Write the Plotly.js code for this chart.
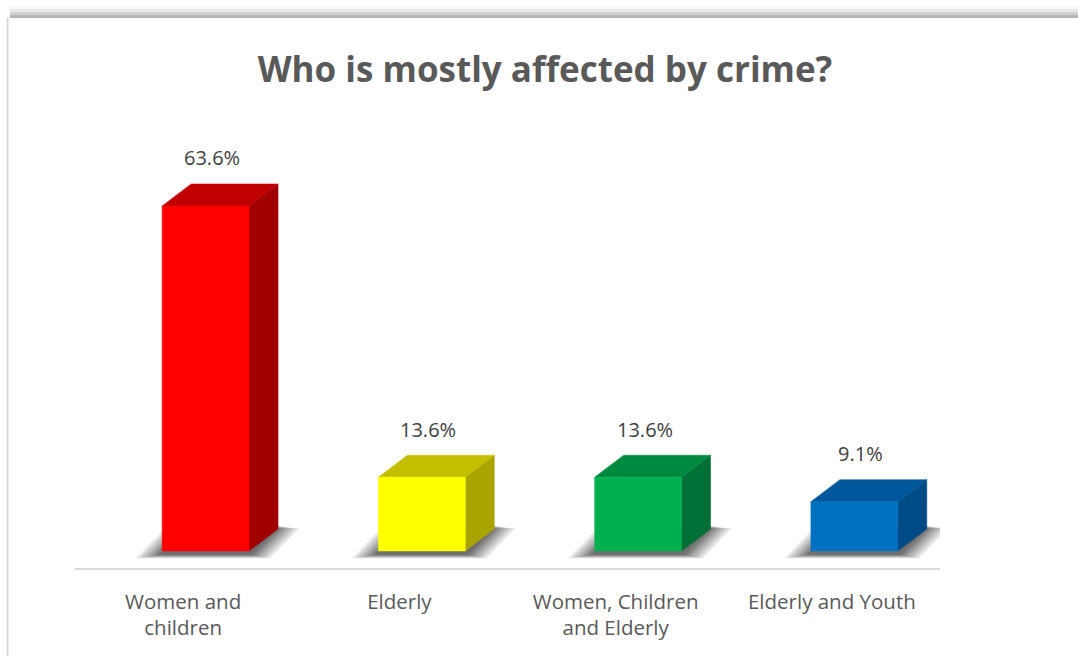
<!DOCTYPE html>
<html>
<head>
<meta charset="utf-8">
<script src="https://cdn.plot.ly/plotly-3.0.1.min.js"></script>
<style>html,body{margin:0;padding:0;background:#fff;}#chart{width:1078px;height:656px;}</style>
</head>
<body>
<div id="chart"></div>
<script>
// ---- data ----
const categories = ["Women and<br>children", "Elderly", "Women, Children<br>and Elderly", "Elderly and Youth"];
const values = [63.6, 13.6, 13.6, 9.1];
const valueLabels = ["63.6%", "13.6%", "13.6%", "9.1%"];
const frontColors = ["#FF0000", "#FFFF00", "#00B050", "#0070C0"];
const topColors = ["#C00000", "#C4BE00", "#008A3F", "#00579B"];
const sideColors = ["#A00000", "#A8A400", "#007036", "#004B85"];

// ---- 3D geometry (in axis units) ----
const faceLeft = -0.097, faceRight = 0.305;  // front face relative to category center
const depthX = 0.134, depthY = 4.06;         // oblique depth offset

const traces = [];
const idx = categories.map((_, i) => i);

// shadows (layered for a soft look)
const shadowSteps = [0.12, 0.1, 0.08, 0.06, 0.045, 0.03, 0.015];
idx.forEach(i => {
  shadowSteps.forEach(e => {
    const L = i + faceLeft - e, R = i + faceRight + e * 0.8;
    const y0 = -0.6 - e * 6, y1 = depthY + 0.6 - e * 4;
    traces.push({
      x: [L, R, R + depthX, L + depthX, L],
      y: [y0, y0, y1, y1, y0],
      type: "scatter", mode: "lines", fill: "toself",
      fillcolor: "rgba(0,0,0,0.11)", line: {width: 0}, hoverinfo: "skip", showlegend: false
    });
  });
});

// box faces
idx.forEach(i => {
  const v = values[i];
  const L = i + faceLeft, R = i + faceRight;
  // side face
  traces.push({
    x: [R, R + depthX, R + depthX, R, R],
    y: [0, depthY, v + depthY, v, 0],
    type: "scatter", mode: "lines", fill: "toself",
    fillcolor: sideColors[i], line: {width: 0.5, color: sideColors[i]}, hoverinfo: "skip", showlegend: false
  });
  // top face
  traces.push({
    x: [L, R, R + depthX, L + depthX, L],
    y: [v, v, v + depthY, v + depthY, v],
    type: "scatter", mode: "lines", fill: "toself",
    fillcolor: topColors[i], line: {width: 0.5, color: topColors[i]}, hoverinfo: "skip", showlegend: false
  });
  // front face
  traces.push({
    x: [L, R, R, L, L],
    y: [0, 0, v, v, 0],
    type: "scatter", mode: "lines", fill: "toself",
    fillcolor: frontColors[i], line: {width: 0.5, color: frontColors[i]},
    name: categories[i].replace("<br>", " "), showlegend: false
  });
});

const annotations = idx.map(i => ({
  x: i + (faceLeft + faceRight) / 2 + 0.03,
  y: values[i] + depthY,
  xref: "x", yref: "y",
  text: valueLabels[i],
  showarrow: false,
  yanchor: "middle",
  yshift: 26,
  font: {family: "Open Sans, sans-serif", size: 20, color: "#404040"}
}));

const layout = {
  width: 1078, height: 656,
  paper_bgcolor: "#ffffff", plot_bgcolor: "rgba(0,0,0,0)",
  margin: {l: 75, r: 138, t: 150, b: 88},
  title: {
    text: "<b>Who is mostly affected by crime?</b>",
    font: {family: "Open Sans, sans-serif", size: 35, color: "#595959"},
    xref: "container", yref: "container", x: 0.5056, y: 0.893,
    xanchor: "center", yanchor: "middle"
  },
  xaxis: {
    range: [-0.5, 3.5], fixedrange: true,
    tickmode: "array", tickvals: idx, ticktext: categories,
    showgrid: false, zeroline: false,
    showline: true, linecolor: "#d9d9d9", linewidth: 2,
    ticks: "outside", ticklen: 14, tickcolor: "rgba(0,0,0,0)",
    tickfont: {family: "Open Sans, sans-serif", size: 20.5, color: "#595959"}
  },
  yaxis: {
    range: [-3.13, 73.92], fixedrange: true,
    showgrid: false, zeroline: false, showline: false, showticklabels: false, ticks: ""
  },
  annotations: annotations,
  shapes: []
};

// outer frame (pixel positions converted to paper coordinates)
const W = 1078, H = 656, pl = 75, pr = 138, pt = 150, pb = 88;
const pw = W - pl - pr, ph = H - pt - pb;
const px = x => (x - pl) / pw;
const py = y => (H - pb - y) / ph;
const bands = [[6, 9, "#f7f7f7"], [9, 12, "#e8e8e8"], [12, 15, "#d0d0d0"], [15, 18, "#b5b5b5"]];
bands.forEach(b => layout.shapes.push({
  type: "rect", xref: "paper", yref: "paper", layer: "below",
  x0: px(10), x1: px(W), y0: py(b[1]), y1: py(b[0]),
  fillcolor: b[2], line: {width: 0}
}));
layout.shapes.push({
  type: "rect", xref: "paper", yref: "paper", layer: "below",
  x0: px(6.5), x1: px(8.5), y0: py(H), y1: py(18),
  fillcolor: "#d9d9d9", line: {width: 0}
});

Plotly.newPlot("chart", traces, layout, {displayModeBar: false, staticPlot: true});
</script>
</body>
</html>
